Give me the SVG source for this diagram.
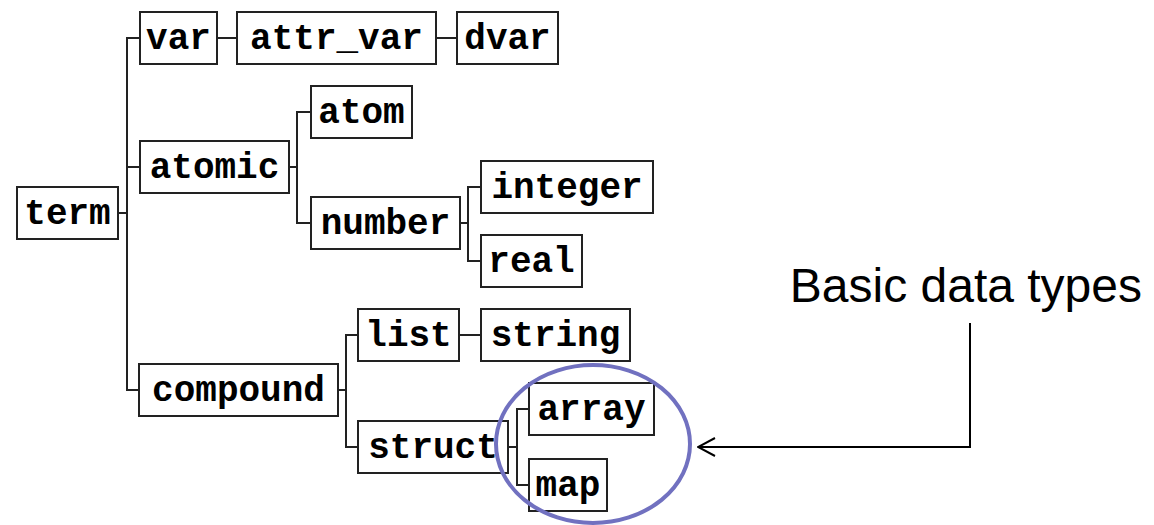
<svg xmlns="http://www.w3.org/2000/svg" width="1154" height="525" viewBox="0 0 1154 525">
  <style>
    .box rect { fill: #ffffff; stroke: #222222; stroke-width: 2; }
    .box text { font-family: "Liberation Mono", "Courier New", monospace; font-weight: bold; font-size: 36px; fill: #000000; text-anchor: middle; }
    .conn path { fill: none; stroke: #222222; stroke-width: 2; }
    .note { font-family: "Liberation Sans", Arial, sans-serif; font-size: 48px; fill: #000000; }
  </style>
  <defs>
    <!-- open V arrowhead, tip at the end of the line -->
    <marker id="openArrow" viewBox="0 0 20 20" refX="19" refY="10" markerWidth="20" markerHeight="20" markerUnits="userSpaceOnUse" orient="auto">
      <path d="M2,1 L19,10 L2,19" fill="none" stroke="#000000" stroke-width="2"/>
    </marker>
  </defs>
  <rect width="1154" height="525" fill="#ffffff"/>

  <!-- tree connectors -->
  <g id="connectors" class="conn">
    <path d="M118,213 H127"/>
    <path d="M140,38 H127 V390 H139"/>
    <path d="M127,167 H140"/>
    <path d="M217,38 H237"/>
    <path d="M436,38 H457"/>
    <path d="M289,167 H297"/>
    <path d="M311,112 H297 V223 H311"/>
    <path d="M460,223 H468"/>
    <path d="M481,187 H468 V261 H481"/>
    <path d="M338,390 H346"/>
    <path d="M358,335 H346 V447 H358"/>
    <path d="M459,335 H481"/>
    <path d="M508,447 H517"/>
    <path d="M529,409 H517 V485 H529"/>
  </g>

  <!-- type nodes -->
  <g id="term" class="box"><rect x="17" y="187" width="101" height="52"/><text x="67.5" y="224">term</text></g>
  <g id="var" class="box"><rect x="140" y="12" width="77" height="52"/><text x="178.5" y="49">var</text></g>
  <g id="attr_var" class="box"><rect x="237" y="12" width="199" height="52"/><text x="336.5" y="49">attr_var</text></g>
  <g id="dvar" class="box"><rect x="457" y="12" width="101" height="52"/><text x="507.5" y="49">dvar</text></g>
  <g id="atomic" class="box"><rect x="140" y="141" width="149" height="52"/><text x="214.5" y="178">atomic</text></g>
  <g id="atom" class="box"><rect x="311" y="86" width="101" height="52"/><text x="361.5" y="123">atom</text></g>
  <g id="number" class="box"><rect x="311" y="197" width="149" height="52"/><text x="385.5" y="234">number</text></g>
  <g id="integer" class="box"><rect x="481" y="161" width="172" height="52"/><text x="567" y="198">integer</text></g>
  <g id="real" class="box"><rect x="481" y="235" width="101" height="52"/><text x="531.5" y="272">real</text></g>
  <g id="compound" class="box"><rect x="139" y="364" width="199" height="52"/><text x="238.5" y="401">compound</text></g>
  <g id="list" class="box"><rect x="358" y="309" width="101" height="52"/><text x="408.5" y="346">list</text></g>
  <g id="string" class="box"><rect x="481" y="309" width="149" height="52"/><text x="555.5" y="346">string</text></g>
  <g id="struct" class="box"><rect x="358" y="421" width="150" height="52"/><text x="433" y="458">struct</text></g>
  <g id="array" class="box"><rect x="529" y="383" width="125" height="52"/><text x="591.5" y="420">array</text></g>
  <g id="map" class="box"><rect x="529" y="459" width="78" height="52"/><text x="568" y="496">map</text></g>

  <!-- highlight of the basic types -->
  <g id="highlight">
    <ellipse cx="593" cy="444" rx="97" ry="79" fill="none" stroke="#7171c0" stroke-width="4"/>
  </g>

  <!-- annotation -->
  <g id="annotation">
    <text class="note" x="1142" y="302" text-anchor="end">Basic data types</text>
    <path d="M970,323 V447 H698" fill="none" stroke="#000000" stroke-width="2" marker-end="url(#openArrow)"/>
  </g>
</svg>
